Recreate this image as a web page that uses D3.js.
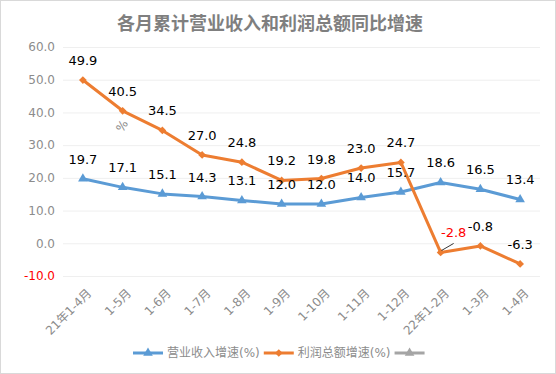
<!DOCTYPE html>
<html>
<head>
<meta charset="utf-8">
<script src="https://cdn.jsdelivr.net/npm/d3@7"></script>
<style>
  body { margin: 0; background: #fff; }
  svg text { font-family: "DejaVu Sans", "Noto Sans CJK SC", sans-serif; }
</style>
</head>
<body>
<div id="chart"></div>
<script>
const categories = ["21年1-4月", "1-5月", "1-6月", "1-7月", "1-8月", "1-9月",
  "1-10月", "1-11月", "1-12月", "22年1-2月", "1-3月", "1-4月"];
const revenueGrowth = [19.7, 17.1, 15.1, 14.3, 13.1, 12.0, 12.0, 14.0, 15.7, 18.6, 16.5, 13.4];
const profitGrowth = [49.9, 40.5, 34.5, 27.0, 24.8, 19.2, 19.8, 23.0, 24.7, -2.8, -0.8, -6.3];
const yTicks = [-10, 0, 10, 20, 30, 40, 50, 60];
const legendNames = ["营业收入增速(%)", "利润总额增速(%)", ""];

const W = 556, H = 374;
const plot = { left: 63, right: 540, top: 47, bottom: 276 };
const GRAY = "#8c8c8c";

const svg = d3.select("#chart").append("svg")
  .attr("width", W)
  .attr("height", H);

// outer frame
svg.append("rect")
  .attr("x", 0.5).attr("y", 0.5)
  .attr("width", W - 1).attr("height", H - 1)
  .attr("fill", "#fff")
  .attr("stroke", "#d9d9d9");

svg.append("text")
  .attr("x", 270).attr("y", 30)
  .attr("text-anchor", "middle")
  .attr("font-size", 18)
  .attr("font-weight", "bold")
  .attr("fill", "#7f7f7f")
  .text("各月累计营业收入和利润总额同比增速");

const x = d3.scalePoint()
  .domain(categories)
  .range([plot.left, plot.right])
  .padding(0.5);

const y = d3.scaleLinear()
  .domain([-10, 60])
  .range([plot.bottom, plot.top]);

// y axis + grid
svg.append("g")
  .attr("transform", "translate(" + plot.left + ",0)")
  .call(d3.axisLeft(y)
    .tickValues(yTicks)
    .tickSize(-(plot.right - plot.left))
    .tickPadding(8)
    .tickFormat(d => d.toFixed(1)))
  .call(g => g.select(".domain").remove())
  .call(g => g.selectAll(".tick line").attr("stroke", "#efefef"))
  .call(g => g.selectAll(".tick text")
    .attr("font-size", 12)
    .attr("fill", d => d < 0 ? "#ff0000" : GRAY));

// x axis labels
svg.append("g")
  .attr("transform", "translate(0," + plot.bottom + ")")
  .call(d3.axisBottom(x).tickSize(0))
  .call(g => g.select(".domain").remove())
  .selectAll(".tick text")
  .attr("font-size", 12)
  .attr("fill", GRAY)
  .attr("text-anchor", "end")
  .attr("dy", "0.35em")
  .attr("y", 0)
  .attr("transform", "translate(6,15) rotate(-45)");

// stray axis title
svg.append("text")
  .attr("transform", "translate(122,126) rotate(-60)")
  .attr("text-anchor", "middle")
  .attr("dy", "0.35em")
  .attr("font-size", 12)
  .attr("fill", GRAY)
  .text("%");

const series = [
  { values: revenueGrowth, color: "#5b9bd5", symbol: d3.symbolTriangle, size: 40, rot: 0 },
  { values: profitGrowth, color: "#ed7d31", symbol: d3.symbolSquare, size: 30, rot: 45 },
  { values: [], color: "#a5a5a5", symbol: d3.symbolTriangle, size: 40, rot: 0 }
];

const line = d3.line()
  .x((d, i) => x(categories[i]))
  .y(d => y(d));

series.forEach(s => {
  const g = svg.append("g");
  g.append("path")
    .datum(s.values)
    .attr("fill", "none")
    .attr("stroke", s.color)
    .attr("stroke-width", 3)
    .attr("stroke-linejoin", "round")
    .attr("d", line);

  g.selectAll("path.marker")
    .data(s.values)
    .join("path")
    .attr("class", "marker")
    .attr("fill", s.color)
    .attr("d", d3.symbol(s.symbol, s.size))
    .attr("transform", (d, i) => "translate(" + x(categories[i]) + "," + y(d) + ") rotate(" + s.rot + ")");
});

// data labels
series.slice(0, 2).forEach((s, si) => {
  s.values.forEach((v, i) => {
    const px = x(categories[i]), py = y(v);
    let lx = px, ly = py - 15, fill = "#000";
    if (si === 1 && categories[i] === "22年1-2月") {
      // moved label with leader line
      lx = px + 13; ly = py - 15;
      fill = "#ff0000";
      svg.append("line")
        .attr("x1", px + 1).attr("y1", py - 2)
        .attr("x2", px + 13).attr("y2", py - 9)
        .attr("stroke", "#000")
        .attr("stroke-width", 0.8);
    }
    svg.append("text")
      .attr("x", lx).attr("y", ly)
      .attr("text-anchor", "middle")
      .attr("font-size", 13)
      .attr("fill", fill)
      .text(v.toFixed(1));
  });
});

// legend
const legend = svg.append("g").attr("transform", "translate(0,353)");
let lx = 133;
series.forEach((s, i) => {
  legend.append("line")
    .attr("x1", lx).attr("x2", lx + 30)
    .attr("stroke", s.color).attr("stroke-width", 3);
  legend.append("path")
    .attr("fill", s.color)
    .attr("d", d3.symbol(s.symbol, s.size))
    .attr("transform", "translate(" + (lx + 15) + ",0) rotate(" + s.rot + ")");
  lx += 34;
  if (legendNames[i]) {
    const t = legend.append("text")
      .attr("x", lx).attr("dy", "0.35em")
      .attr("font-size", 12)
      .attr("fill", GRAY)
      .text(legendNames[i]);
    lx += t.node().getComputedTextLength() + 4;
  }
});
</script>
</body>
</html>
